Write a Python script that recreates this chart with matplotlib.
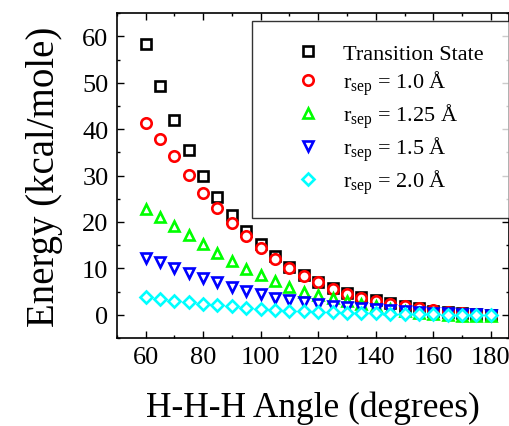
import matplotlib
matplotlib.use("Agg")
import matplotlib.pyplot as plt

plt.rcParams['font.family'] = ['Liberation Serif', 'DejaVu Serif']
plt.rcParams['mathtext.fontset'] = 'custom'
plt.rcParams['mathtext.rm'] = 'Liberation Serif'
plt.rcParams['mathtext.it'] = 'Liberation Serif:italic'

angles = list(range(60, 185, 5))

transition_state = [58.3, 49.3, 41.9, 35.5, 30.0, 25.3, 21.4, 18.0, 15.3, 12.6,
                    10.4, 8.6, 7.1, 5.8, 4.7, 3.8, 3.1, 2.5, 1.9, 1.4,
                    0.9, 0.6, 0.3, 0.1, 0.0]
r_10 = [41.4, 37.9, 34.2, 30.2, 26.3, 23.0, 19.8, 16.9, 14.4, 12.0,
        10.1, 8.3, 7.0, 5.6, 4.5, 3.6, 2.9, 2.3, 1.8, 1.4,
        1.0, 0.7, 0.4, 0.2, 0.0]
r_125 = [22.7, 21.0, 19.1, 17.1, 15.3, 13.3, 11.7, 9.9, 8.6, 7.2,
         6.0, 5.0, 4.3, 3.6, 2.9, 2.3, 1.8, 1.3, 0.9, 0.5,
         0.2, 0.0, -0.2, -0.2, -0.2]
r_15 = [12.3, 11.3, 10.1, 9.0, 7.9, 7.0, 6.1, 5.2, 4.4, 3.7,
        3.2, 2.7, 2.3, 1.9, 1.7, 1.4, 1.2, 1.0, 0.8, 0.6,
        0.5, 0.3, 0.2, 0.1, 0.0]
r_20 = [3.8, 3.4, 3.0, 2.7, 2.4, 2.1, 1.8, 1.5, 1.2, 1.0,
        0.9, 0.8, 0.7, 0.6, 0.5, 0.4, 0.3, 0.2, 0.2, 0.1,
        0.1, 0.0, 0.0, 0.0, 0.0]

series = [
    (transition_state, 's', 'black', 'Transition State'),
    (r_10, 'o', 'red', r'r$_{\mathrm{sep}}$ = 1.0 Å'),
    (r_125, '^', '#00ff00', r'r$_{\mathrm{sep}}$ = 1.25 Å'),
    (r_15, 'v', 'blue', r'r$_{\mathrm{sep}}$ = 1.5 Å'),
    (r_20, 'D', 'cyan', r'r$_{\mathrm{sep}}$ = 2.0 Å'),
]

fig = plt.figure(figsize=(5.10, 4.27), dpi=100)
ax = fig.add_axes([0.229, 0.206, 0.769, 0.761])

for values, marker, color, label in series:
    ms = 6.5 if marker == 'D' else 7.5
    ax.plot(angles, values, linestyle='none', marker=marker, markersize=ms,
            markerfacecolor='white', markeredgecolor=color,
            markeredgewidth=1.9, label=label)

ax.set_xlim(50, 186.3)
ax.set_ylim(-5, 65)
ax.set_xticks(range(60, 181, 20))
ax.set_xticks(range(50, 186, 10), minor=True)
ax.set_yticks(range(0, 61, 10))
ax.set_yticks(range(-5, 66, 5), minor=True)
ax.tick_params(which='both', direction='in', top=True, right=True,
               labelsize=19, width=1.0)
ax.tick_params(which='major', length=5, pad=6)
ax.tick_params(which='minor', length=2.5)
for spine in ax.spines.values():
    spine.set_linewidth(1.2)

ax.set_xlabel('H-H-H Angle (degrees)', fontsize=25.5, labelpad=16)
ax.set_ylabel('Energy (kcal/mole)', fontsize=28, labelpad=14)

leg = ax.legend(loc='upper left', bbox_to_anchor=(252 / 510, 1 - 22 / 427, 257 / 510, 0.0),
                bbox_transform=fig.transFigure, mode='expand',
                fontsize=16, frameon=True, fancybox=False,
                borderpad=1.0, labelspacing=0.2, handlelength=3.0,
                handletextpad=0.1, borderaxespad=0.0)
leg.get_frame().set_edgecolor('black')
leg.get_frame().set_linewidth(1.0)

fig.savefig('out.png', dpi=100)
